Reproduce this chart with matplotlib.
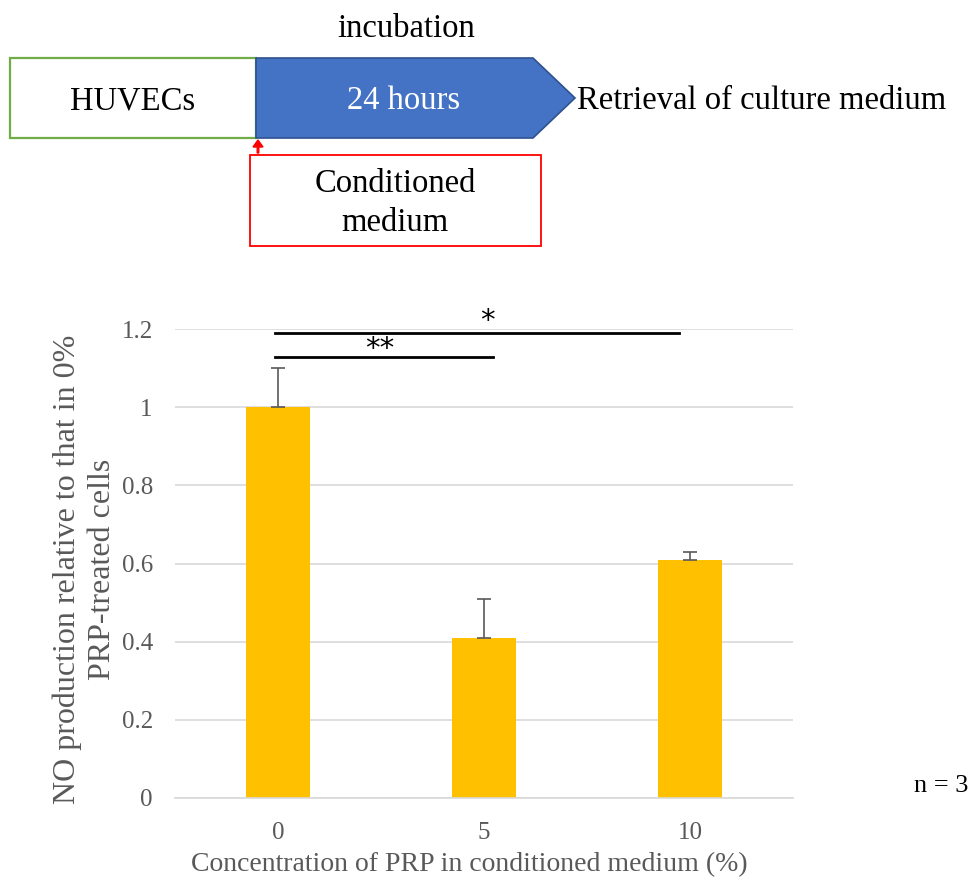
import matplotlib
matplotlib.use("Agg")
import matplotlib.pyplot as plt
from matplotlib.patches import Rectangle, Polygon, FancyArrow

# Data
categories = ["0", "5", "10"]
values = [1.0, 0.41, 0.61]
errors = [0.10, 0.10, 0.02]
yticks = [0, 0.2, 0.4, 0.6, 0.8, 1.0, 1.2]
ytick_labels = ["0", "0.2", "0.4", "0.6", "0.8", "1", "1.2"]

W, H = 971, 877
plt.rcParams["font.family"] = ["Liberation Serif", "DejaVu Serif"]

fig = plt.figure(figsize=(W / 100, H / 100), dpi=100)

# Schematic overlay in pixel coordinates
ov = fig.add_axes([0, 0, 1, 1])
ov.set_xlim(0, W)
ov.set_ylim(H, 0)
ov.axis("off")

ov.add_patch(Rectangle((10, 58), 246, 80, fill=False, ec="#70AD47", lw=1.6))
ov.add_patch(Polygon([(256, 58), (533, 58), (575, 98), (533, 138), (256, 138)],
                     closed=True, fc="#4472C4", ec="#2F528F", lw=1.2))
ov.add_patch(Rectangle((250, 155), 291, 91, fill=False, ec="#FF0000", lw=1.3))
ov.add_patch(FancyArrow(258, 153, 0, -13, width=1.6, head_width=10, head_length=7,
                        length_includes_head=True, color="#FF0000"))

big = 23.5
ov.text(406, 29, "incubation", ha="center", va="center", fontsize=big, color="black")
ov.text(133, 101, "HUVECs", ha="center", va="center", fontsize=big, color="black")
ov.text(404, 101, "24 hours", ha="center", va="center", fontsize=big, color="white")
ov.text(577, 101, "Retrieval of culture medium", ha="left", va="center", fontsize=big, color="black")
ov.text(395, 203, "Conditioned\nmedium", ha="center", va="center", fontsize=big,
        color="black", linespacing=1.35)
ov.text(968, 786, "n = 3", ha="right", va="center", fontsize=19, color="black")

# Bar chart
ax = fig.add_axes([175 / W, (H - 798) / H, 618 / W, 469 / H])
x = list(range(len(categories)))
ax.bar(x, values, width=0.31, color="#FFC000", zorder=2)
ax.errorbar(x, values, yerr=[[0] * len(errors), errors], fmt="none",
            ecolor="#595959", elinewidth=1.2, capsize=5, capthick=1.2, zorder=3)

ax.set_xlim(-0.5, 2.5)
ax.set_ylim(0, 1.2)
ax.set_yticks(yticks)
ax.set_yticklabels(ytick_labels)
ax.set_xticks(x)
ax.set_xticklabels(categories)
ax.yaxis.grid(True, color="#D9D9D9", lw=1.2, zorder=0)
ax.set_axisbelow(True)
for s in ["top", "right", "left"]:
    ax.spines[s].set_visible(False)
ax.spines["bottom"].set_color("#D9D9D9")
ax.spines["bottom"].set_linewidth(1.2)
ax.tick_params(axis="both", length=0, labelsize=18, labelcolor="#595959")
ax.tick_params(axis="y", pad=16)
ax.tick_params(axis="x", pad=17)
ax.set_ylabel("NO production relative to that in 0%\nPRP-treated cells",
              fontsize=23, color="#595959", linespacing=1.25)
ax.yaxis.set_label_coords(-0.094, 0.488)
ax.set_xlabel("Concentration of PRP in conditioned medium (%)",
              fontsize=20, color="#595959")
ax.xaxis.set_label_coords(0.476, -0.115)

# Significance brackets
ax.plot([-0.015, 1.947], [1.191, 1.191], color="black", lw=2, clip_on=False)
ax.plot([-0.015, 1.044], [1.129, 1.129], color="black", lw=2, clip_on=False)
ax.text(1.015, 1.221, "*", ha="center", va="center", fontsize=21,
        family="DejaVu Sans", clip_on=False)
ax.text(0.495, 1.149, "**", ha="center", va="center", fontsize=21,
        family="DejaVu Sans", clip_on=False)

fig.savefig("out.png", dpi=100)
